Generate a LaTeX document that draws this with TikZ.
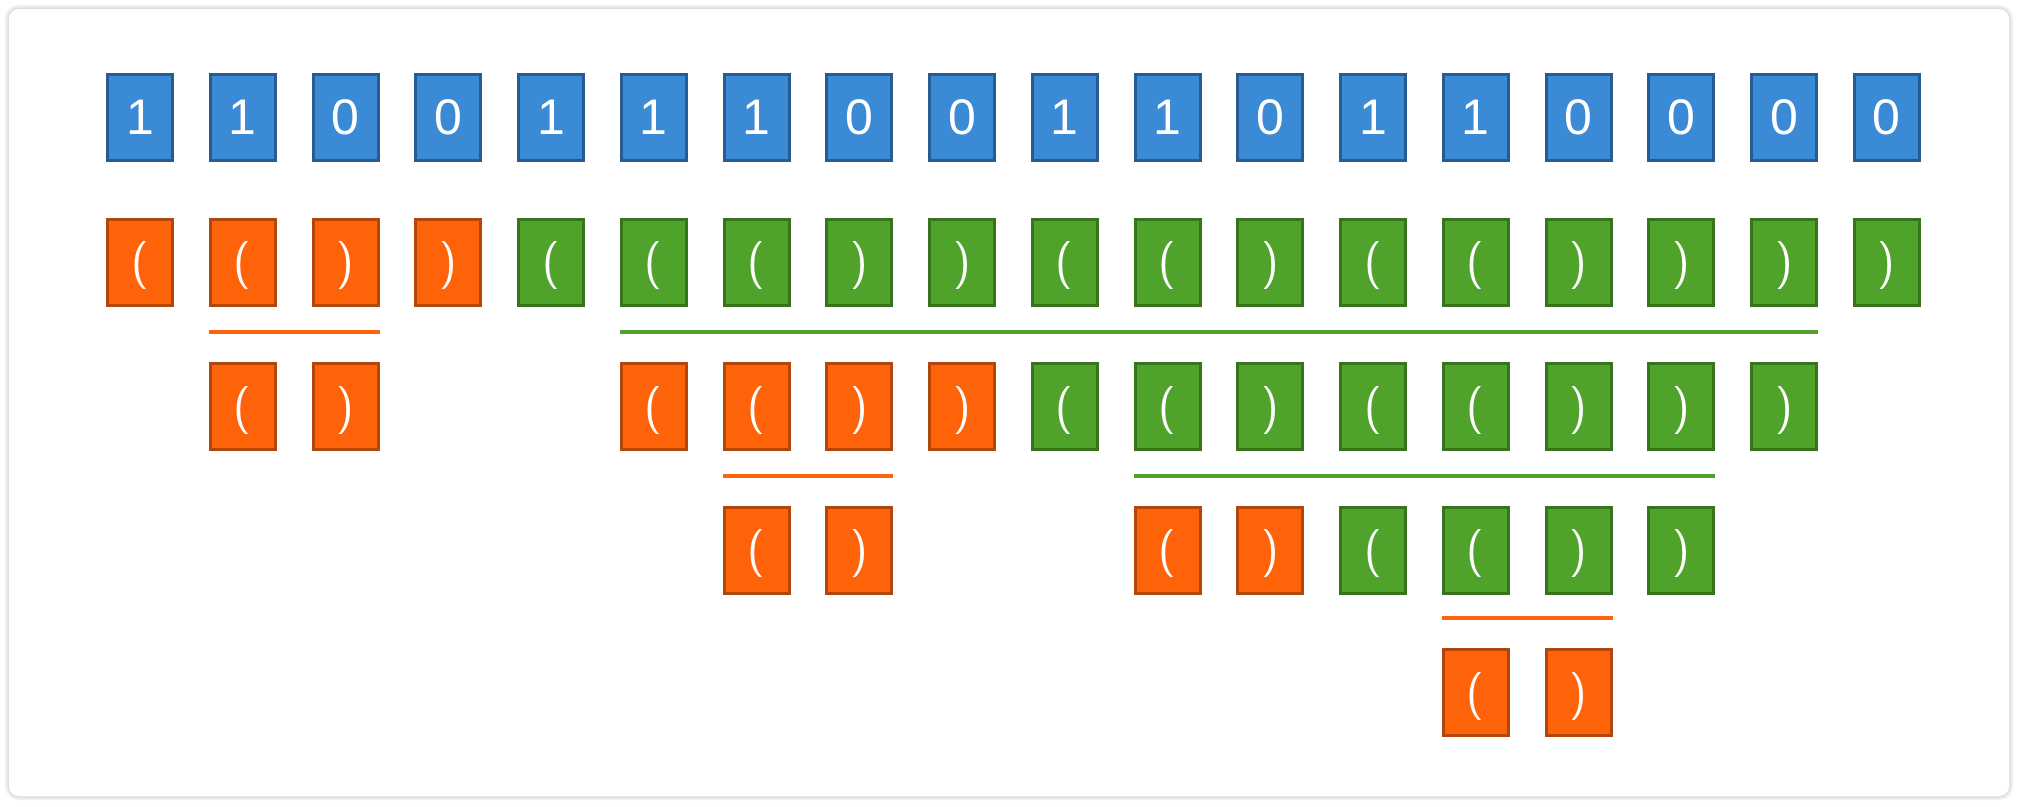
\documentclass[tikz,border=0pt]{standalone}
\usepackage{fontspec}
\setmainfont{Liberation Sans}
\definecolor{bfill}{RGB}{58,138,213}
\definecolor{bdraw}{RGB}{38,92,145}
\definecolor{ofill}{RGB}{255,99,10}
\definecolor{odraw}{RGB}{178,70,12}
\definecolor{gfill}{RGB}{80,163,42}
\definecolor{gdraw}{RGB}{56,116,30}
\newcommand\myL{\raisebox{-4pt}[\height][\depth]{\sffamily\fontsize{48}{48}\selectfont(}}
\newcommand\myR{\raisebox{-4pt}[\height][\depth]{\sffamily\fontsize{48}{48}\selectfont)}}
\begin{document}
\begin{tikzpicture}[x=1pt,y=-1pt,
  cell/.style={minimum width=65pt,minimum height=86pt,inner sep=0pt,line width=3pt,
    font=\fontsize{50}{50}\selectfont,text=white},
  bl/.style={cell,fill=bfill,draw=bdraw},
  or/.style={cell,fill=ofill,draw=odraw},
  gr/.style={cell,fill=gfill,draw=gdraw},
  oline/.style={draw=ofill,line width=4pt},
  gline/.style={draw=gfill,line width=4pt}]
\useasboundingbox (0,0) rectangle (2018,806);
\fill[white] (0,0) rectangle (2018,806);
\draw[rounded corners=11pt,draw=black!6,line width=6pt] (8,8) rectangle (2010,797);
\draw[rounded corners=11pt,draw=black!13,line width=1.5pt,fill=white] (8,8) rectangle (2010,797);
% row 1
\foreach \c/\t in {0/1,1/1,2/0,3/0,4/1,5/1,6/1,7/0,8/0,9/1,10/1,11/0,12/1,13/1,14/0,15/0,16/0,17/0}
  \node[bl] (r1c\c) at ({140+102.75*\c},117.5) {\t};
% row 2
\foreach \c/\t/\s in {0/\myL/or,1/\myL/or,2/\myR/or,3/\myR/or,4/\myL/gr,5/\myL/gr,6/\myL/gr,7/\myR/gr,8/\myR/gr,9/\myL/gr,10/\myL/gr,11/\myR/gr,12/\myL/gr,13/\myL/gr,14/\myR/gr,15/\myR/gr,16/\myR/gr,17/\myR/gr}
  \node[\s] (r2c\c) at ({140+102.75*\c},262) {\t};
% row 3
\foreach \c/\t/\s in {1/\myL/or,2/\myR/or,5/\myL/or,6/\myL/or,7/\myR/or,8/\myR/or,9/\myL/gr,10/\myL/gr,11/\myR/gr,12/\myL/gr,13/\myL/gr,14/\myR/gr,15/\myR/gr,16/\myR/gr}
  \node[\s] (r3c\c) at ({140+102.75*\c},406.5) {\t};
% row 4
\foreach \c/\t/\s in {6/\myL/or,7/\myR/or,10/\myL/or,11/\myR/or,12/\myL/gr,13/\myL/gr,14/\myR/gr,15/\myR/gr}
  \node[\s] (r4c\c) at ({140+102.75*\c},550) {\t};
% row 5
\foreach \c/\t/\s in {13/\myL/or,14/\myR/or}
  \node[\s] (r5c\c) at ({140+102.75*\c},692.5) {\t};
% split lines
\draw[oline] ([yshift=30pt]r3c1.north west) -- ([yshift=30pt]r3c2.north east);
\draw[gline] ([yshift=30pt]r3c5.north west) -- ([yshift=30pt]r3c16.north east);
\draw[oline] ([yshift=30pt]r4c6.north west) -- ([yshift=30pt]r4c7.north east);
\draw[gline] ([yshift=30pt]r4c10.north west) -- ([yshift=30pt]r4c15.north east);
\draw[oline] ([yshift=30pt]r5c13.north west) -- ([yshift=30pt]r5c14.north east);
\end{tikzpicture}
\end{document}
